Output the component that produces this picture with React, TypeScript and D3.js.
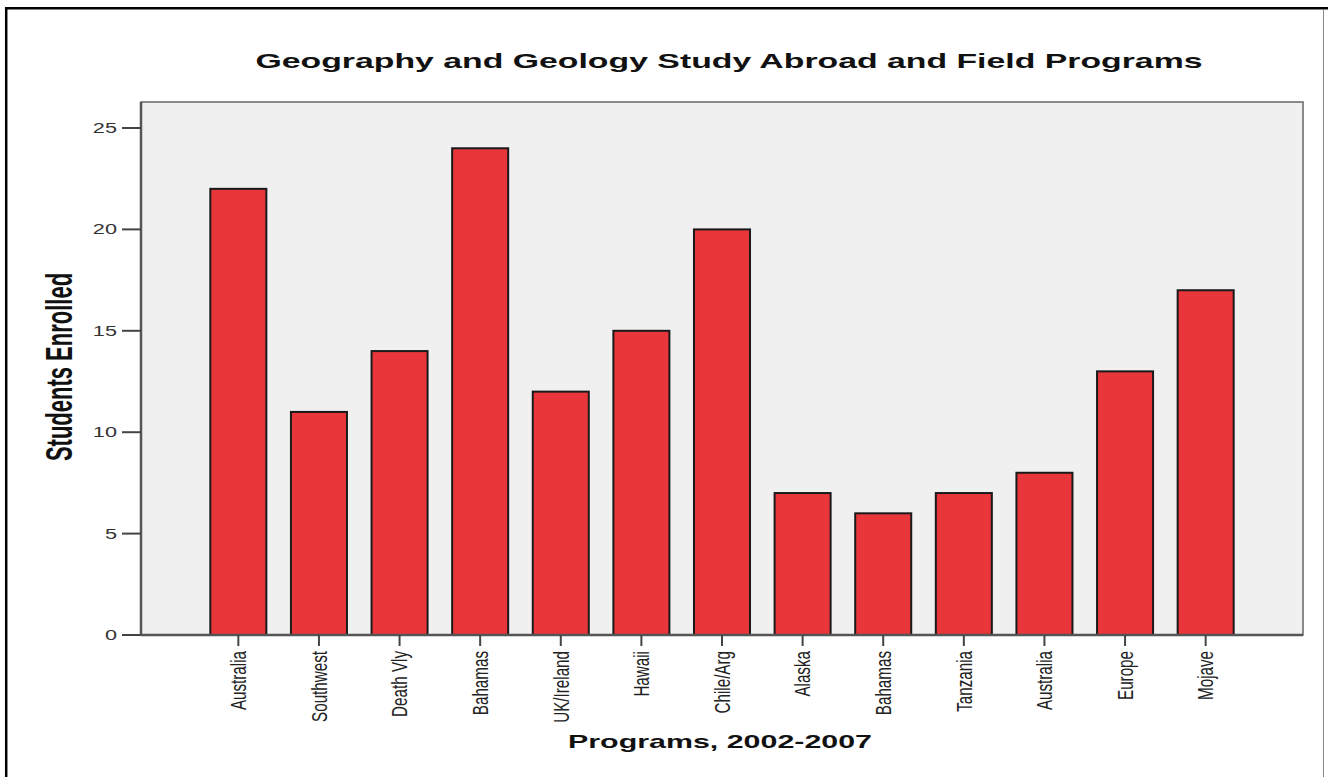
import React from 'react';
import * as d3 from 'd3';

const programs = [
  'Australia', 'Southwest', 'Death Vly', 'Bahamas', 'UK/Ireland', 'Hawaii', 'Chile/Arg',
  'Alaska', 'Bahamas', 'Tanzania', 'Australia', 'Europe', 'Mojave'
];
const enrolled = [22, 11, 14, 24, 12, 15, 20, 7, 6, 7, 8, 13, 17];
const yTicks = [0, 5, 10, 15, 20, 25];

const chartTitle = 'Geography and Geology Study Abroad and Field Programs';
const xTitle = 'Programs, 2002-2007';
const yTitle = 'Students Enrolled';

const W = 1328;
const H = 777;
const plot = { left: 141, right: 1303, top: 102, bottom: 635 };
// the source picture is stretched sideways, text too
const stretch = 1.69;
const font = '"Liberation Sans", Arial, sans-serif';

const App = () => {
  const idx = programs.map((_, i) => i);

  const x = d3.scaleBand<number>()
    .domain(idx)
    .range([plot.left, plot.right])
    .paddingInner(0.305)
    .paddingOuter(0.86);

  const y = d3.scaleLinear()
    .domain([0, 25])
    .range([plot.bottom, 128]);

  const bw = x.bandwidth();

  return (
    <svg width={W} height={H} style={{ position: 'absolute', left: 0, top: 0 }} fontFamily={font}>
      <rect x={0} y={0} width={W} height={H} fill="#fff" />
      {/* outer frame */}
      <line x1={6.2} y1={7} x2={6.2} y2={H} stroke="#000" strokeWidth={2.5} />
      <line x1={5} y1={8.3} x2={W} y2={8.3} stroke="#000" strokeWidth={2.5} />
      <line x1={1323.5} y1={9} x2={1323.5} y2={H} stroke="#888" strokeWidth={1} />

      {/* title */}
      <text transform={`translate(729,68) scale(${stretch},1)`} textAnchor="middle"
        fontSize={20} fontWeight="bold" fill="#111">{chartTitle}</text>

      {/* plot area */}
      <rect x={plot.left} y={plot.top} width={plot.right - plot.left} height={plot.bottom - plot.top}
        fill="#f0f0f0" stroke="#666" strokeWidth={1.5} />

      {/* bars */}
      {enrolled.map((v, i) => (
        <rect key={i} x={x(i)} y={y(v)} width={bw} height={y(0) - y(v)}
          fill="#e8363a" stroke="#1a1a1a" strokeWidth={2} />
      ))}

      {/* axes lines */}
      <line x1={plot.left} y1={plot.top} x2={plot.left} y2={plot.bottom} stroke="#555" strokeWidth={2.5} />
      <line x1={plot.left} y1={plot.bottom} x2={plot.right} y2={plot.bottom} stroke="#555" strokeWidth={2.5} />

      {/* y ticks */}
      {yTicks.map(t => (
        <g key={t}>
          <line x1={122} x2={plot.left} y1={y(t)} y2={y(t)} stroke="#444" strokeWidth={2} />
          <text transform={`translate(117,${y(t)}) scale(1.55,1)`} dy="0.36em" textAnchor="end"
            fontSize={14} fill="#333">{t}</text>
        </g>
      ))}

      {/* x ticks */}
      {idx.map(i => {
        const cx = (x(i) as number) + bw / 2;
        return (
          <g key={i}>
            <line x1={cx} x2={cx} y1={plot.bottom} y2={646} stroke="#444" strokeWidth={2} />
            <text transform={`translate(${cx},651) rotate(-90) scale(1,1.45)`} dy="0.35em"
              textAnchor="end" fontSize={15.2} fill="#222">{programs[i]}</text>
          </g>
        );
      })}

      {/* axis titles */}
      <text transform={`translate(720,748) scale(1.6,1)`} textAnchor="middle"
        fontSize={19} fontWeight="bold" fill="#111">{xTitle}</text>
      <text transform={`translate(72,367) rotate(-90) scale(1,1.68)`} textAnchor="middle"
        fontSize={22} fontWeight="bold" fill="#111">{yTitle}</text>
    </svg>
  );
};

export default App;
